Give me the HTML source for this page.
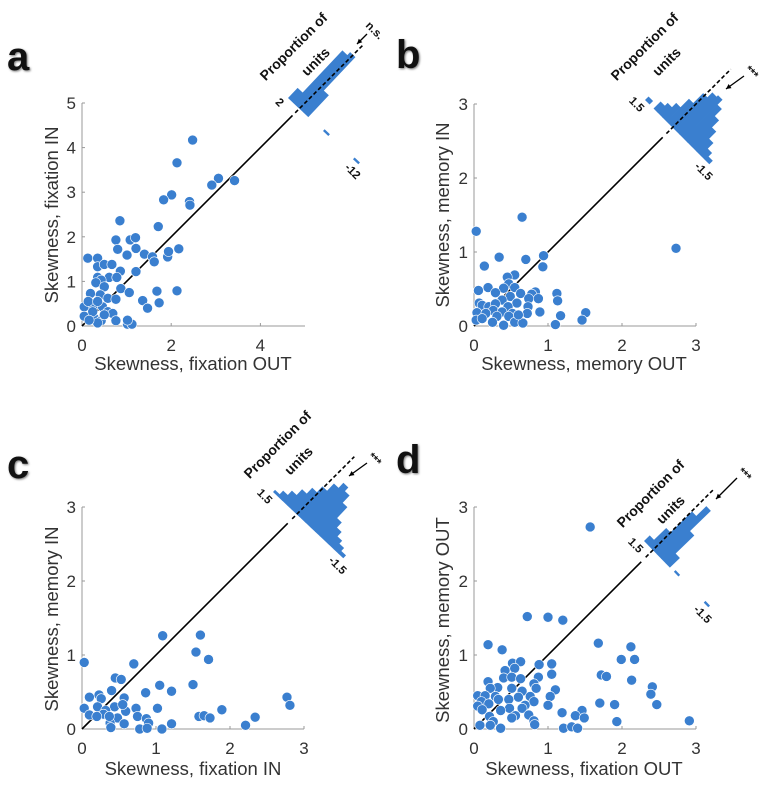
<!DOCTYPE html>
<html><head><meta charset="utf-8"><style>
html,body{margin:0;padding:0;background:#fff;}
svg{display:block;font-family:"Liberation Sans",Arial,sans-serif;}
</style></head><body>
<svg id="fig" width="762" height="790" viewBox="0 0 762 790"></svg>
<script>
// ---- data ----
const aX=[2.48,2.13,3.06,2.91,3.42,2.01,1.83,2.41,2.42,0.85,1.71,0.76,1.08,1.20,0.80,1.21,2.17,1.01,1.40,1.58,1.62,1.92,1.94,0.13,0.35,0.35,0.50,0.67,0.86,1.21,0.35,0.61,0.78,0.43,0.31,0.50,0.87,0.19,0.41,0.58,0.76,1.06,1.68,2.13,1.73,1.36,1.47,0.05,0.26,0.46,0.14,0.35,0.58,0.69,0.05,0.28,0.43,0.76,0.35,1.02,1.12,1.02,0.24,0.50,0.16];
const aY=[4.17,3.66,3.31,3.16,3.26,2.94,2.83,2.79,2.71,2.36,2.23,1.93,1.93,1.98,1.72,1.74,1.73,1.59,1.61,1.55,1.44,1.55,1.67,1.52,1.52,1.33,1.38,1.38,1.23,1.22,1.09,1.09,1.09,1.03,0.97,0.88,0.84,0.73,0.70,0.62,0.60,0.75,0.78,0.79,0.52,0.57,0.40,0.43,0.45,0.43,0.55,0.55,0.32,0.28,0.22,0.17,0.12,0.12,0.07,0.04,0.04,0.13,0.32,0.25,0.13];
const bX=[0.65,0.03,2.73,0.34,0.94,0.70,0.93,0.14,0.55,0.45,0.47,0.19,0.06,0.55,0.40,0.29,0.63,0.83,0.78,1.12,0.87,0.74,1.13,0.49,0.58,0.38,0.07,0.11,0.20,0.29,0.46,0.73,0.26,0.04,0.16,0.38,0.52,0.72,0.89,1.51,1.17,0.03,0.31,0.47,1.46,0.25,0.55,0.66,0.40,1.10,0.60,0.11];
const bY=[1.47,1.28,1.05,0.93,0.95,0.90,0.80,0.81,0.69,0.66,0.57,0.52,0.48,0.52,0.51,0.45,0.44,0.46,0.43,0.44,0.37,0.37,0.34,0.40,0.31,0.35,0.31,0.28,0.26,0.30,0.26,0.26,0.21,0.18,0.17,0.19,0.17,0.17,0.19,0.18,0.14,0.08,0.13,0.13,0.08,0.05,0.05,0.04,0.01,0.02,0.15,0.10];
const cX=[1.09,1.60,1.54,1.71,0.03,0.70,0.45,0.53,1.05,1.50,0.40,1.21,0.86,0.23,0.10,0.26,0.57,2.77,2.81,0.03,0.21,0.44,0.73,1.02,1.89,0.32,0.59,0.10,0.29,0.20,0.75,0.48,1.58,1.65,1.73,2.34,0.87,0.38,0.57,0.90,1.21,2.21,0.39,0.78,0.88,1.08,0.55,0.37];
const cY=[1.26,1.27,1.04,0.94,0.90,0.88,0.69,0.67,0.59,0.60,0.52,0.51,0.49,0.46,0.43,0.41,0.42,0.43,0.32,0.28,0.30,0.30,0.28,0.28,0.26,0.25,0.24,0.19,0.20,0.17,0.17,0.15,0.17,0.18,0.15,0.16,0.14,0.08,0.07,0.08,0.07,0.05,0.02,0.00,0.01,0.00,0.33,0.17];
const dX=[1.57,0.72,1.00,1.20,0.19,0.38,1.68,2.12,1.99,2.17,0.52,0.63,0.88,1.05,0.42,0.55,1.05,1.72,1.79,0.40,0.51,0.63,0.87,2.13,0.19,0.81,0.32,0.51,0.84,1.10,0.22,0.65,2.41,2.39,0.05,0.15,0.29,0.76,1.03,0.60,0.33,0.47,0.81,0.10,0.20,0.69,1.00,1.70,1.90,2.47,0.05,0.48,0.65,0.36,0.11,1.19,1.46,1.37,1.49,0.21,0.74,0.56,0.51,0.26,0.81,1.93,2.91,0.08,0.22,0.36,1.21,1.32,1.40,0.82];
const dY=[2.73,1.52,1.51,1.47,1.14,1.07,1.16,1.11,0.94,0.94,0.89,0.91,0.87,0.88,0.79,0.82,0.74,0.73,0.71,0.69,0.70,0.68,0.70,0.66,0.64,0.61,0.56,0.55,0.55,0.53,0.55,0.51,0.57,0.47,0.45,0.45,0.44,0.44,0.44,0.43,0.40,0.40,0.37,0.37,0.34,0.32,0.32,0.35,0.33,0.33,0.31,0.28,0.28,0.25,0.26,0.22,0.25,0.18,0.15,0.17,0.19,0.18,0.15,0.10,0.11,0.10,0.11,0.05,0.05,0.01,0.01,0.03,0.01,0.06];
// histogram bin proportions (upper-left end to lower-right end of histogram axis)
const aHist=[0.07,0.36,0.38,0.15,0,0,0,0.012,0,0,0,0,0,0.012];
const bHist=[0.025,0,0.05,0.07,0.10,0.16,0.23,0.265,0.275,0.24,0.19,0.14,0.09,0.05,0.025];
const cHist=[0.015,0.04,0.07,0.11,0.15,0.19,0.24,0.275,0.25,0.2,0.125,0.09,0.06,0.04,0.02];
const dHist=[0.04,0.125,0.275,0.345,0.2,0.07,0,0.012,0,0,0,0,0,0,0.012];
const aTicks=[0,1,2,3,4,5], aXTicks=[0,2,4];
const bTicks=[0,1,2,3];
const NS="http://www.w3.org/2000/svg";
const svg=document.getElementById('fig');
function mk(tag,attrs,parent,txt){const e=document.createElementNS(NS,tag);for(const k in attrs)e.setAttribute(k,attrs[k]);if(txt!==undefined)e.textContent=txt;(parent||svg).appendChild(e);return e;}
const BLUE="#3a7fcf";
const panels=[
 {id:'a',letter:'a',lx:7,ly:70,ox:82,oy:326,len:223,max:5,xt:aXTicks,yt:aTicks,X:aX,Y:aY,H:aHist,xlab:'Skewness, fixation OUT',ylab:'Skewness, fixation IN',xlx:193,xly:370,ylx:58,yly:215,
  p1:[288,98],p2:[358,164],top:'2',bot:'-12',solidEnd:4.72,dashStart:4.78,dashEnd:6.3,ar:[367,34,357,44],sig:'n.s.',prop:[297,50,312,60]},
 {id:'b',letter:'b',lx:396,ly:68,ox:474,oy:326,len:222,max:3,xt:bTicks,yt:bTicks,X:bX,Y:bY,H:bHist,xlab:'Skewness, memory OUT',ylab:'Skewness, memory IN',xlx:584,xly:370,ylx:449,yly:215,
  p1:[645,100],p2:[709,164],top:'1.5',bot:'-1.5',solidEnd:2.55,dashStart:2.6,dashEnd:3.47,ar:[744,76,726,89],sig:'***',prop:[648,50,663,60]},
 {id:'c',letter:'c',lx:7,ly:478,ox:82,oy:729,len:222,max:3,xt:bTicks,yt:bTicks,X:cX,Y:cY,H:cHist,xlab:'Skewness, fixation IN',ylab:'Skewness, memory IN',xlx:193,xly:775,ylx:58,yly:619,
  p1:[273,492],p2:[343,558],top:'1.5',bot:'-1.5',solidEnd:2.78,dashStart:2.84,dashEnd:3.68,ar:[367,463,349,476],sig:'***',prop:[281,448,295,459]},
 {id:'d',letter:'d',lx:396,ly:473,ox:474,oy:729,len:222,max:3,xt:bTicks,yt:bTicks,X:dX,Y:dY,H:dHist,xlab:'Skewness, fixation OUT',ylab:'Skewness, memory OUT',xlx:584,xly:775,ylx:449,yly:620,
  p1:[644,541],p2:[708,607],top:'1.5',bot:'-1.5',solidEnd:2.26,dashStart:2.32,dashEnd:3.24,ar:[737,478,716,499],sig:'***',prop:[654,497,667,508]}
];
panels.forEach(p=>{
 const g=mk('g',{});
 
 
 const sx=v=>p.ox+v/p.max*p.len, sy=v=>p.oy-v/p.max*p.len;
 const L=mk('text',{x:p.lx,y:p.ly,'font-size':40,'font-weight':'bold',fill:'#111',style:'text-shadow:1px 1px 2px #777'},g,p.letter);
 
 
 const xa=mk('line',{x1:p.ox,y1:p.oy,x2:p.ox+p.len,y2:p.oy,stroke:'#999','stroke-width':1},g);
 
 
 const ya=mk('line',{x1:p.ox,y1:p.oy,x2:p.ox,y2:p.oy-p.len,stroke:'#999','stroke-width':1},g);
 
 
 p.xt.forEach(t=>{
  mk('line',{x1:sx(t),y1:p.oy,x2:sx(t),y2:p.oy-3,stroke:'#999'},g);
  const tx=mk('text',{x:sx(t),y:p.oy+25,'font-size':17,fill:'#333','text-anchor':'middle'},g,String(t));
  
  
 });
 p.yt.forEach(t=>{
  mk('line',{x1:p.ox,y1:sy(t),x2:p.ox+3,y2:sy(t),stroke:'#999'},g);
  const tx=mk('text',{x:p.ox-6,y:sy(t)+6,'font-size':17,fill:'#333','text-anchor':'end'},g,String(t));
  
  
 });
 const xl=mk('text',{x:p.xlx,y:p.xly,'font-size':18.5,fill:'#333','text-anchor':'middle'},g,p.xlab);
 
 
 const yl=mk('text',{x:p.ylx,y:p.yly,'font-size':18.5,fill:'#333','text-anchor':'middle',transform:`rotate(-90 ${p.ylx} ${p.yly})`},g,p.ylab);
 
 
 const idl=mk('line',{x1:sx(0),y1:sy(0),x2:sx(p.solidEnd),y2:sy(p.solidEnd),stroke:'#000','stroke-width':1.6},g);
 
 
 p.X.forEach((x,i)=>{
  const c=mk('circle',{cx:sx(x),cy:sy(p.Y[i]),r:5,fill:BLUE,stroke:'#fff','stroke-width':0.6},g);
  
  
 });
 const dx=p.p2[0]-p.p1[0], dy=p.p2[1]-p.p1[1];
 const Ln=Math.hypot(dx,dy), ang=Math.atan2(dy,dx)*180/Math.PI;
 const hg=mk('g',{transform:`translate(${p.p1[0]} ${p.p1[1]}) rotate(${ang})`},g);
 
 
 const bw=Ln/p.H.length;
 p.H.forEach((v,i)=>{
  if(v<=0)return;
  const h=v*200;
  const r=mk('rect',{x:i*bw,y:-h,width:bw+0.4,height:h,fill:BLUE},hg);
  
  
 });
 const dl=mk('line',{x1:sx(p.dashStart),y1:sy(p.dashStart),x2:sx(p.dashEnd),y2:sy(p.dashEnd),stroke:'#000','stroke-width':1.6,'stroke-dasharray':'4 2.5'},g);
 
 
 const tl=mk('text',{x:p.p1[0]-11,y:p.p1[1]+7,'font-size':11.5,'font-weight':'bold',fill:'#111','text-anchor':'middle',transform:`rotate(45 ${p.p1[0]-11} ${p.p1[1]+7})`},g,p.top);
 
 
 const bl=mk('text',{x:p.p2[0]-8,y:p.p2[1]+10,'font-size':11.5,'font-weight':'bold',fill:'#111','text-anchor':'middle',transform:`rotate(45 ${p.p2[0]-8} ${p.p2[1]+10})`},g,p.bot);
 
 
 const [ax1,ay1,ax2,ay2]=p.ar;
 mk('line',{x1:ax1,y1:ay1,x2:ax2,y2:ay2,stroke:'#000','stroke-width':1.3},g);
 const ux=(ax2-ax1),uy=(ay2-ay1),ul=Math.hypot(ux,uy),nx=ux/ul,ny=uy/ul;
 mk('polygon',{points:`${ax2},${ay2} ${ax2-nx*5-ny*2.5},${ay2-ny*5+nx*2.5} ${ax2-nx*5+ny*2.5},${ay2-ny*5-nx*2.5}`,fill:'#000'},g);
 const sg=mk('text',{x:ax1+5,y:ay1-1,'font-size':11.5,'font-weight':'bold',fill:'#111','text-anchor':'middle',transform:`rotate(45 ${ax1+5} ${ay1-1})`},g,p.sig);
 
 
 const pt=mk('text',{x:p.prop[0],y:p.prop[1],'font-size':14,'font-weight':'bold',fill:'#111','text-anchor':'middle',transform:`rotate(-45 ${p.prop[0]} ${p.prop[1]})`},g,'Proportion of');
 
 
 const pu=mk('text',{x:p.prop[2]+7,y:p.prop[3]+5,'font-size':14,'font-weight':'bold',fill:'#111','text-anchor':'middle',transform:`rotate(-45 ${p.prop[2]+7} ${p.prop[3]+5})`},g,'units');
 
 
});
</script>
</body></html>
